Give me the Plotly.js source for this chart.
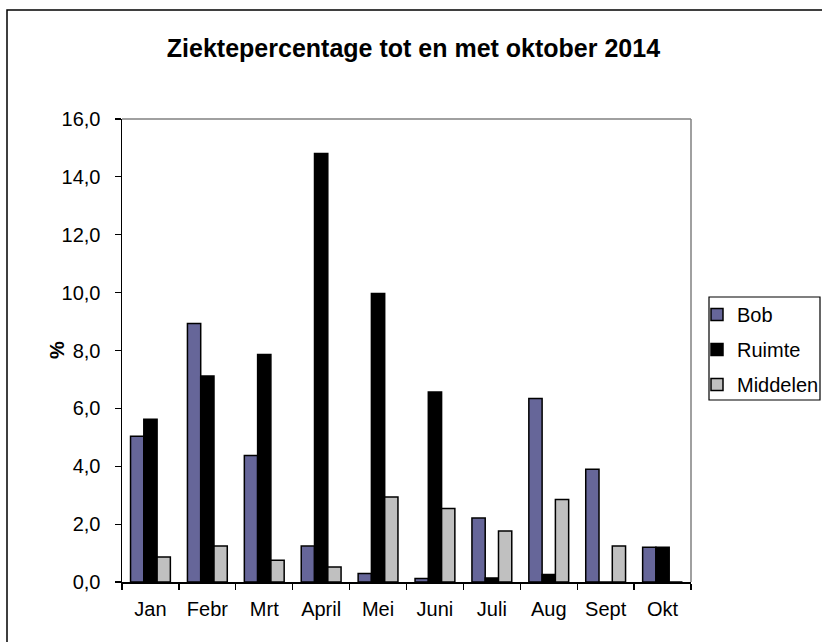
<!DOCTYPE html>
<html>
<head>
<meta charset="utf-8">
<script src="https://cdn.plot.ly/plotly-3.0.1.min.js"></script>
<style>
html,body{margin:0;padding:0;background:#fff;}
#chart{width:822px;height:642px;}
</style>
</head>
<body>
<div id="chart"></div>
<script>
const months = ["Jan","Febr","Mrt","April","Mei","Juni","Juli","Aug","Sept","Okt"];
const bob      = [5.04, 8.93, 4.37, 1.24, 0.29, 0.12, 2.21, 6.34, 3.90, 1.20];
const ruimte   = [5.62, 7.12, 7.86, 14.81, 9.97, 6.57, 0.14, 0.26, 0, 1.20];
const middelen = [0.86, 1.24, 0.75, 0.52, 2.94, 2.54, 1.76, 2.85, 1.24, 0];
const yTicks = [0, 2, 4, 6, 8, 10, 12, 14, 16];

const FONT = "Liberation Sans, Arial, sans-serif";
const outline = {color: "#000000", width: 1.5};

const traces = [
  {type: "bar", name: "Bob", x: months, y: bob, legendgroup: "a",
   marker: {color: "#666699", line: outline}},
  {type: "bar", name: "Ruimte", x: months, y: ruimte, legendgroup: "b",
   marker: {color: "#000000", line: outline}},
  {type: "bar", name: "Middelen", x: months, y: middelen, legendgroup: "c",
   marker: {color: "#C0C0C0", line: outline}}
];

const L = 122, R = 691, T = 119, B = 582, W = 822, H = 642;
const pw = R - L, ph = B - T;
const px = v => (v - L) / pw;
const py = v => (B - v) / ph;

const layout = {
  width: W, height: H,
  margin: {l: L, r: W - R, t: T, b: H - B, pad: 0, autoexpand: false},
  paper_bgcolor: "#ffffff",
  plot_bgcolor: "#ffffff",
  separators: ",.",
  font: {family: FONT, size: 19, color: "#000000"},
  barmode: "group",
  bargap: 0.3,
  bargroupgap: 0,
  showlegend: true,
  title: {
    text: "<b>Ziektepercentage tot en met oktober 2014</b>",
    font: {family: FONT, size: 25, color: "#000000"},
    x: 0.503, xref: "container", xanchor: "center",
    y: 1 - 48 / H, yref: "container", yanchor: "middle"
  },
  xaxis: {
    type: "category",
    showline: true, linecolor: "#000000", linewidth: 1.5,
    ticks: "outside", tickson: "boundaries", ticklen: 6, tickcolor: "#000000", tickwidth: 1.2,
    ticklabelstandoff: 8,
    showgrid: false, zeroline: false,
    tickfont: {family: FONT, size: 20, color: "#000000"},
    fixedrange: true
  },
  yaxis: {
    range: [0, 16],
    tickvals: yTicks,
    tickformat: ".1f",
    showline: true, linecolor: "#000000", linewidth: 1.5,
    ticks: "outside", ticklen: 6, tickcolor: "#000000", tickwidth: 1.2,
    ticklabelstandoff: 10,
    showgrid: false, zeroline: false,
    tickfont: {family: FONT, size: 20, color: "#000000"},
    automargin: false,
    fixedrange: true
  },
  annotations: [
    {text: "<b>%</b>", xref: "paper", yref: "paper", x: px(57), y: py(350),
     xanchor: "center", yanchor: "middle", textangle: -90, showarrow: false,
     font: {family: FONT, size: 20, color: "#000000"}}
  ],
  legend: {
    x: px(697), y: py(295), xanchor: "left", yanchor: "top",
    borderwidth: 0,
    bgcolor: "rgba(0,0,0,0)",
    font: {family: FONT, size: 20, color: "#000000"},
    traceorder: "grouped",
    tracegroupgap: 6,
    itemwidth: 30
  },
  shapes: [
    // plot area top & right border (gray)
    {type: "line", xref: "paper", yref: "paper", x0: 0, x1: 1, y0: 1, y1: 1,
     line: {color: "#808080", width: 1.5}},
    {type: "line", xref: "paper", yref: "paper", x0: 1, x1: 1, y0: 0, y1: 1,
     line: {color: "#808080", width: 1.5}},
    // legend frame
    {type: "rect", xref: "paper", yref: "paper",
     x0: px(709), x1: px(820), y0: py(297), y1: py(400),
     line: {color: "#000000", width: 1.2}, fillcolor: "rgba(0,0,0,0)"},
    // outer chart border
    {type: "rect", xref: "paper", yref: "paper",
     x0: px(7), x1: px(840), y0: py(10), y1: py(660),
     line: {color: "#000000", width: 1.5}, fillcolor: "rgba(0,0,0,0)", layer: "below"}
  ]
};

Plotly.newPlot("chart", traces, layout, {displayModeBar: false, staticPlot: true});
</script>
</body>
</html>
